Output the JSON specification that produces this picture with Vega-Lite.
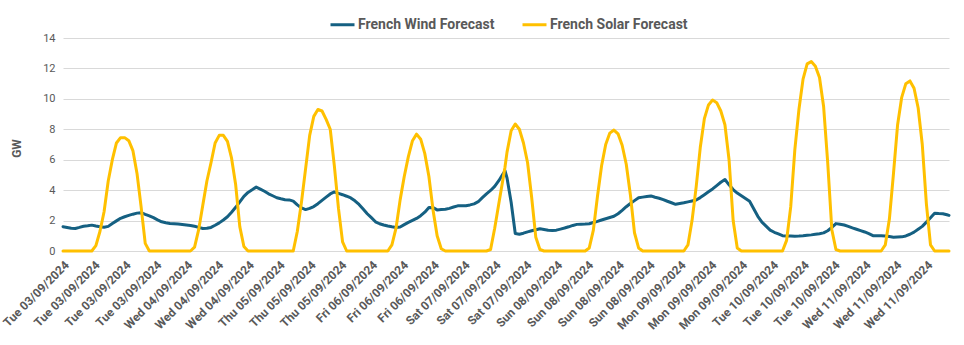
{
  "$schema": "https://vega.github.io/schema/vega-lite/v6.json",
  "width": 886,
  "height": 213,
  "autosize": "none",
  "padding": {"left": 63, "top": 38, "right": 15, "bottom": 94},
  "background": "white",
  "config": {
    "view": {"stroke": null},
    "font": "Liberation Sans Narrow, Roboto, sans-serif",
    "axis": {"labelColor": "#595959", "titleColor": "#595959", "gridColor": "#d9d9d9", "gridWidth": 1}
  },
  "data": {"values": [
    {"t":"2024-09-03T00:00","w":1.6,"s":0},{"t":"2024-09-03T01:00","w":1.55,"s":0},{"t":"2024-09-03T02:00","w":1.5,"s":0},{"t":"2024-09-03T03:00","w":1.48,"s":0},{"t":"2024-09-03T04:00","w":1.55,"s":0},{"t":"2024-09-03T05:00","w":1.63,"s":0},{"t":"2024-09-03T06:00","w":1.66,"s":0},{"t":"2024-09-03T07:00","w":1.7,"s":0},{"t":"2024-09-03T08:00","w":1.64,"s":0.35},{"t":"2024-09-03T09:00","w":1.59,"s":1.3},{"t":"2024-09-03T10:00","w":1.56,"s":2.6},{"t":"2024-09-03T11:00","w":1.62,"s":4.6},{"t":"2024-09-03T12:00","w":1.81,"s":6.0},{"t":"2024-09-03T13:00","w":1.98,"s":7.1},{"t":"2024-09-03T14:00","w":2.15,"s":7.45},{"t":"2024-09-03T15:00","w":2.25,"s":7.45},{"t":"2024-09-03T16:00","w":2.34,"s":7.25},{"t":"2024-09-03T17:00","w":2.42,"s":6.6},{"t":"2024-09-03T18:00","w":2.49,"s":5.1},{"t":"2024-09-03T19:00","w":2.52,"s":2.9},{"t":"2024-09-03T20:00","w":2.41,"s":0.5},{"t":"2024-09-03T21:00","w":2.31,"s":0},{"t":"2024-09-03T22:00","w":2.19,"s":0},{"t":"2024-09-03T23:00","w":2.05,"s":0},
    {"t":"2024-09-04T00:00","w":1.92,"s":0},{"t":"2024-09-04T01:00","w":1.86,"s":0},{"t":"2024-09-04T02:00","w":1.81,"s":0},{"t":"2024-09-04T03:00","w":1.79,"s":0},{"t":"2024-09-04T04:00","w":1.77,"s":0},{"t":"2024-09-04T05:00","w":1.74,"s":0},{"t":"2024-09-04T06:00","w":1.71,"s":0},{"t":"2024-09-04T07:00","w":1.68,"s":0},{"t":"2024-09-04T08:00","w":1.63,"s":0.25},{"t":"2024-09-04T09:00","w":1.55,"s":1.4},{"t":"2024-09-04T10:00","w":1.48,"s":3.0},{"t":"2024-09-04T11:00","w":1.49,"s":4.6},{"t":"2024-09-04T12:00","w":1.55,"s":5.8},{"t":"2024-09-04T13:00","w":1.69,"s":7.1},{"t":"2024-09-04T14:00","w":1.85,"s":7.6},{"t":"2024-09-04T15:00","w":2.04,"s":7.6},{"t":"2024-09-04T16:00","w":2.25,"s":7.2},{"t":"2024-09-04T17:00","w":2.55,"s":6.1},{"t":"2024-09-04T18:00","w":2.87,"s":4.35},{"t":"2024-09-04T19:00","w":3.23,"s":1.6},{"t":"2024-09-04T20:00","w":3.59,"s":0.3},{"t":"2024-09-04T21:00","w":3.85,"s":0},{"t":"2024-09-04T22:00","w":4.02,"s":0},{"t":"2024-09-04T23:00","w":4.2,"s":0},
    {"t":"2024-09-05T00:00","w":4.07,"s":0},{"t":"2024-09-05T01:00","w":3.93,"s":0},{"t":"2024-09-05T02:00","w":3.76,"s":0},{"t":"2024-09-05T03:00","w":3.63,"s":0},{"t":"2024-09-05T04:00","w":3.5,"s":0},{"t":"2024-09-05T05:00","w":3.43,"s":0},{"t":"2024-09-05T06:00","w":3.37,"s":0},{"t":"2024-09-05T07:00","w":3.36,"s":0},{"t":"2024-09-05T08:00","w":3.28,"s":0},{"t":"2024-09-05T09:00","w":3.03,"s":1.3},{"t":"2024-09-05T10:00","w":2.83,"s":3.2},{"t":"2024-09-05T11:00","w":2.72,"s":5.4},{"t":"2024-09-05T12:00","w":2.8,"s":7.6},{"t":"2024-09-05T13:00","w":2.92,"s":8.85},{"t":"2024-09-05T14:00","w":3.11,"s":9.3},{"t":"2024-09-05T15:00","w":3.33,"s":9.2},{"t":"2024-09-05T16:00","w":3.54,"s":8.65},{"t":"2024-09-05T17:00","w":3.75,"s":8.0},{"t":"2024-09-05T18:00","w":3.88,"s":5.6},{"t":"2024-09-05T19:00","w":3.79,"s":2.8},{"t":"2024-09-05T20:00","w":3.7,"s":0.6},{"t":"2024-09-05T21:00","w":3.6,"s":0},{"t":"2024-09-05T22:00","w":3.49,"s":0},{"t":"2024-09-05T23:00","w":3.3,"s":0},
    {"t":"2024-09-06T00:00","w":3.06,"s":0},{"t":"2024-09-06T01:00","w":2.76,"s":0},{"t":"2024-09-06T02:00","w":2.45,"s":0},{"t":"2024-09-06T03:00","w":2.19,"s":0},{"t":"2024-09-06T04:00","w":1.92,"s":0},{"t":"2024-09-06T05:00","w":1.79,"s":0},{"t":"2024-09-06T06:00","w":1.71,"s":0},{"t":"2024-09-06T07:00","w":1.64,"s":0},{"t":"2024-09-06T08:00","w":1.59,"s":0.4},{"t":"2024-09-06T09:00","w":1.55,"s":1.5},{"t":"2024-09-06T10:00","w":1.58,"s":3.36},{"t":"2024-09-06T11:00","w":1.73,"s":4.9},{"t":"2024-09-06T12:00","w":1.88,"s":6.2},{"t":"2024-09-06T13:00","w":2.01,"s":7.25},{"t":"2024-09-06T14:00","w":2.14,"s":7.68},{"t":"2024-09-06T15:00","w":2.32,"s":7.35},{"t":"2024-09-06T16:00","w":2.55,"s":6.4},{"t":"2024-09-06T17:00","w":2.86,"s":4.9},{"t":"2024-09-06T18:00","w":2.85,"s":2.7},{"t":"2024-09-06T19:00","w":2.7,"s":1.0},{"t":"2024-09-06T20:00","w":2.72,"s":0.15},{"t":"2024-09-06T21:00","w":2.74,"s":0},{"t":"2024-09-06T22:00","w":2.8,"s":0},{"t":"2024-09-06T23:00","w":2.89,"s":0},
    {"t":"2024-09-07T00:00","w":2.97,"s":0},{"t":"2024-09-07T01:00","w":2.97,"s":0},{"t":"2024-09-07T02:00","w":2.98,"s":0},{"t":"2024-09-07T03:00","w":3.03,"s":0},{"t":"2024-09-07T04:00","w":3.1,"s":0},{"t":"2024-09-07T05:00","w":3.24,"s":0},{"t":"2024-09-07T06:00","w":3.51,"s":0},{"t":"2024-09-07T07:00","w":3.76,"s":0},{"t":"2024-09-07T08:00","w":3.98,"s":0.1},{"t":"2024-09-07T09:00","w":4.25,"s":1.5},{"t":"2024-09-07T10:00","w":4.62,"s":3.1},{"t":"2024-09-07T11:00","w":5.05,"s":4.7},{"t":"2024-09-07T11:30","w":5.28,"s":5.5},{"t":"2024-09-07T12:00","w":4.8,"s":6.5},{"t":"2024-09-07T13:00","w":3.2,"s":7.9},{"t":"2024-09-07T14:00","w":1.15,"s":8.35},{"t":"2024-09-07T15:00","w":1.1,"s":8.0},{"t":"2024-09-07T16:00","w":1.17,"s":7.1},{"t":"2024-09-07T17:00","w":1.26,"s":5.8},{"t":"2024-09-07T18:00","w":1.33,"s":3.5},{"t":"2024-09-07T19:00","w":1.4,"s":0.9},{"t":"2024-09-07T20:00","w":1.46,"s":0.1},{"t":"2024-09-07T21:00","w":1.41,"s":0},{"t":"2024-09-07T22:00","w":1.36,"s":0},{"t":"2024-09-07T23:00","w":1.35,"s":0},
    {"t":"2024-09-08T00:00","w":1.37,"s":0},{"t":"2024-09-08T01:00","w":1.44,"s":0},{"t":"2024-09-08T02:00","w":1.51,"s":0},{"t":"2024-09-08T03:00","w":1.59,"s":0},{"t":"2024-09-08T04:00","w":1.68,"s":0},{"t":"2024-09-08T05:00","w":1.75,"s":0},{"t":"2024-09-08T06:00","w":1.76,"s":0},{"t":"2024-09-08T07:00","w":1.77,"s":0},{"t":"2024-09-08T08:00","w":1.79,"s":0.2},{"t":"2024-09-08T09:00","w":1.87,"s":1.37},{"t":"2024-09-08T10:00","w":1.95,"s":3.6},{"t":"2024-09-08T11:00","w":2.04,"s":5.6},{"t":"2024-09-08T12:00","w":2.12,"s":7.0},{"t":"2024-09-08T13:00","w":2.2,"s":7.75},{"t":"2024-09-08T14:00","w":2.28,"s":7.95},{"t":"2024-09-08T15:00","w":2.45,"s":7.7},{"t":"2024-09-08T16:00","w":2.67,"s":6.95},{"t":"2024-09-08T17:00","w":2.91,"s":5.7},{"t":"2024-09-08T18:00","w":3.12,"s":3.7},{"t":"2024-09-08T19:00","w":3.31,"s":1.2},{"t":"2024-09-08T20:00","w":3.5,"s":0.2},{"t":"2024-09-08T21:00","w":3.54,"s":0},{"t":"2024-09-08T22:00","w":3.58,"s":0},{"t":"2024-09-08T23:00","w":3.62,"s":0},
    {"t":"2024-09-09T00:00","w":3.53,"s":0},{"t":"2024-09-09T01:00","w":3.47,"s":0},{"t":"2024-09-09T02:00","w":3.38,"s":0},{"t":"2024-09-09T03:00","w":3.27,"s":0},{"t":"2024-09-09T04:00","w":3.17,"s":0},{"t":"2024-09-09T05:00","w":3.07,"s":0},{"t":"2024-09-09T06:00","w":3.12,"s":0},{"t":"2024-09-09T07:00","w":3.17,"s":0},{"t":"2024-09-09T08:00","w":3.23,"s":0.4},{"t":"2024-09-09T09:00","w":3.29,"s":2.0},{"t":"2024-09-09T10:00","w":3.35,"s":4.2},{"t":"2024-09-09T11:00","w":3.51,"s":6.8},{"t":"2024-09-09T12:00","w":3.7,"s":8.7},{"t":"2024-09-09T13:00","w":3.89,"s":9.6},{"t":"2024-09-09T14:00","w":4.08,"s":9.92},{"t":"2024-09-09T15:00","w":4.3,"s":9.75},{"t":"2024-09-09T16:00","w":4.52,"s":9.2},{"t":"2024-09-09T17:00","w":4.7,"s":8.3},{"t":"2024-09-09T18:00","w":4.35,"s":6.0},{"t":"2024-09-09T19:00","w":4.04,"s":2.0},{"t":"2024-09-09T20:00","w":3.81,"s":0.2},{"t":"2024-09-09T21:00","w":3.63,"s":0},{"t":"2024-09-09T22:00","w":3.45,"s":0},{"t":"2024-09-09T23:00","w":3.27,"s":0},
    {"t":"2024-09-10T00:00","w":2.78,"s":0},{"t":"2024-09-10T01:00","w":2.28,"s":0},{"t":"2024-09-10T02:00","w":1.9,"s":0},{"t":"2024-09-10T03:00","w":1.64,"s":0},{"t":"2024-09-10T04:00","w":1.37,"s":0},{"t":"2024-09-10T05:00","w":1.23,"s":0},{"t":"2024-09-10T06:00","w":1.12,"s":0},{"t":"2024-09-10T07:00","w":1.01,"s":0},{"t":"2024-09-10T08:00","w":0.99,"s":0.7},{"t":"2024-09-10T09:00","w":0.98,"s":2.9},{"t":"2024-09-10T10:00","w":0.97,"s":6.65},{"t":"2024-09-10T11:00","w":0.98,"s":9.3},{"t":"2024-09-10T12:00","w":1.0,"s":11.3},{"t":"2024-09-10T13:00","w":1.03,"s":12.3},{"t":"2024-09-10T14:00","w":1.06,"s":12.45},{"t":"2024-09-10T15:00","w":1.1,"s":12.15},{"t":"2024-09-10T16:00","w":1.14,"s":11.4},{"t":"2024-09-10T17:00","w":1.19,"s":9.5},{"t":"2024-09-10T18:00","w":1.33,"s":5.8},{"t":"2024-09-10T19:00","w":1.55,"s":1.4},{"t":"2024-09-10T20:00","w":1.8,"s":0.1},{"t":"2024-09-10T21:00","w":1.76,"s":0},{"t":"2024-09-10T22:00","w":1.71,"s":0},{"t":"2024-09-10T23:00","w":1.62,"s":0},
    {"t":"2024-09-11T00:00","w":1.52,"s":0},{"t":"2024-09-11T01:00","w":1.43,"s":0},{"t":"2024-09-11T02:00","w":1.34,"s":0},{"t":"2024-09-11T03:00","w":1.25,"s":0},{"t":"2024-09-11T04:00","w":1.14,"s":0},{"t":"2024-09-11T05:00","w":1.01,"s":0},{"t":"2024-09-11T06:00","w":1.0,"s":0},{"t":"2024-09-11T07:00","w":1.0,"s":0},{"t":"2024-09-11T08:00","w":0.99,"s":0.4},{"t":"2024-09-11T09:00","w":0.95,"s":2.1},{"t":"2024-09-11T10:00","w":0.91,"s":5.1},{"t":"2024-09-11T11:00","w":0.92,"s":8.3},{"t":"2024-09-11T12:00","w":0.93,"s":10.1},{"t":"2024-09-11T13:00","w":0.99,"s":11.0},{"t":"2024-09-11T14:00","w":1.1,"s":11.18},{"t":"2024-09-11T15:00","w":1.24,"s":10.7},{"t":"2024-09-11T16:00","w":1.43,"s":9.4},{"t":"2024-09-11T17:00","w":1.62,"s":7.0},{"t":"2024-09-11T18:00","w":1.9,"s":3.1},{"t":"2024-09-11T19:00","w":2.18,"s":0.4},{"t":"2024-09-11T20:00","w":2.48,"s":0},{"t":"2024-09-11T21:00","w":2.46,"s":0},{"t":"2024-09-11T22:00","w":2.45,"s":0},{"t":"2024-09-11T23:00","w":2.38,"s":0},{"t":"2024-09-11T23:30","w":2.34,"s":0}
  ]},
  "encoding": {
    "x": {
      "field": "t", "type": "temporal",
      "scale": {"domain": [{"year":2024,"month":9,"date":3,"hours":0}, {"year":2024,"month":9,"date":11,"hours":23,"minutes":30}], "nice": false},
      "axis": {
        "title": null, "grid": false, "ticks": false, "domain": false,
        "labelAngle": -45, "labelPadding": 8, "labelFontSize": 12, "labelFontWeight": "bold", "labelOverlap": false, "labelBound": false, "labelFlush": false,
        "labelExpr": "timeFormat(datum.value, '%a %d/%m/%Y')",
        "values": [
          {"year":2024,"month":9,"date":3,"hours":0},{"year":2024,"month":9,"date":3,"hours":7,"minutes":30},{"year":2024,"month":9,"date":3,"hours":15},{"year":2024,"month":9,"date":3,"hours":22,"minutes":30},
          {"year":2024,"month":9,"date":4,"hours":6},{"year":2024,"month":9,"date":4,"hours":13,"minutes":30},{"year":2024,"month":9,"date":4,"hours":21},
          {"year":2024,"month":9,"date":5,"hours":4,"minutes":30},{"year":2024,"month":9,"date":5,"hours":12},{"year":2024,"month":9,"date":5,"hours":19,"minutes":30},
          {"year":2024,"month":9,"date":6,"hours":3},{"year":2024,"month":9,"date":6,"hours":10,"minutes":30},{"year":2024,"month":9,"date":6,"hours":18},
          {"year":2024,"month":9,"date":7,"hours":1,"minutes":30},{"year":2024,"month":9,"date":7,"hours":9},{"year":2024,"month":9,"date":7,"hours":16,"minutes":30},
          {"year":2024,"month":9,"date":8,"hours":0},{"year":2024,"month":9,"date":8,"hours":7,"minutes":30},{"year":2024,"month":9,"date":8,"hours":15},{"year":2024,"month":9,"date":8,"hours":22,"minutes":30},
          {"year":2024,"month":9,"date":9,"hours":6},{"year":2024,"month":9,"date":9,"hours":13,"minutes":30},{"year":2024,"month":9,"date":9,"hours":21},
          {"year":2024,"month":9,"date":10,"hours":4,"minutes":30},{"year":2024,"month":9,"date":10,"hours":12},{"year":2024,"month":9,"date":10,"hours":19,"minutes":30},
          {"year":2024,"month":9,"date":11,"hours":3},{"year":2024,"month":9,"date":11,"hours":10,"minutes":30},{"year":2024,"month":9,"date":11,"hours":18}
        ]
      }
    }
  },
  "layer": [
    {
      "mark": {"type": "line", "strokeWidth": 3, "strokeJoin": "round", "strokeCap": "round"},
      "encoding": {
        "y": {
          "field": "w", "type": "quantitative",
          "scale": {"domain": [0, 14], "nice": false},
          "axis": {"title": "GW", "titleFontSize": 12, "titleFontWeight": "bold", "titleX": -40, "titleY": 110, "values": [0,2,4,6,8,10,12,14], "labelOverlap": false, "labelFontSize": 11, "labelPadding": 8, "ticks": false, "domain": false, "grid": true}
        },
        "color": {
          "datum": "French Wind Forecast", "type": "nominal",
          "scale": {"domain": ["French Wind Forecast", "French Solar Forecast"], "range": ["#156082", "#FFC000"]},
          "legend": {"title": null, "orient": "none", "legendX": 266, "legendY": -27, "direction": "horizontal", "symbolType": "stroke", "symbolSize": 576, "symbolStrokeWidth": 3, "labelFontSize": 14, "labelFontWeight": "bold", "labelColor": "#595959", "labelOffset": 2, "columnPadding": 21}
        }
      }
    },
    {
      "mark": {"type": "line", "strokeWidth": 3, "strokeJoin": "round", "strokeCap": "round"},
      "encoding": {
        "y": {
          "field": "s", "type": "quantitative",
          "scale": {"domain": [0, 14], "nice": false},
          "axis": {"title": "GW", "titleFontSize": 12, "titleFontWeight": "bold", "titleX": -40, "titleY": 110, "values": [0,2,4,6,8,10,12,14], "labelOverlap": false, "labelFontSize": 11, "labelPadding": 8, "ticks": false, "domain": false, "grid": true}
        },
        "color": {"datum": "French Solar Forecast", "type": "nominal"}
      }
    }
  ]
}
